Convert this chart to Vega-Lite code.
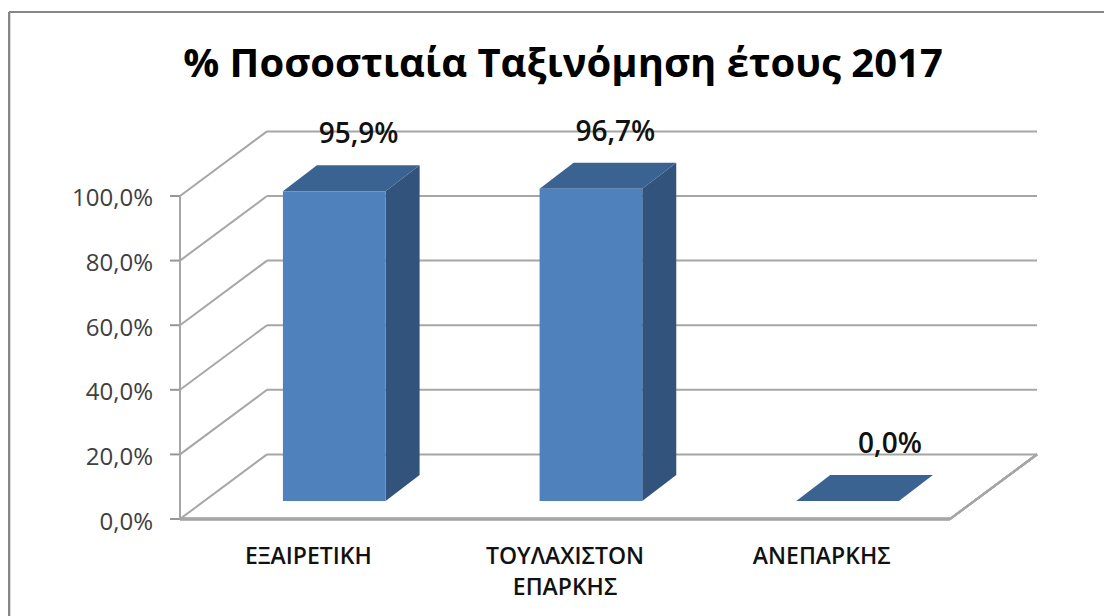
{"$schema":"https://vega.github.io/schema/vega-lite/v6.json","width":1104,"height":616,"autosize":{"type":"none"},"padding":0,"background":"white","config":{"view":{"stroke":null},"text":{"font":"Open Sans"},"title":{"font":"Open Sans"}},"title":{"text":"% Ποσοστιαία Ταξινόμηση έτους 2017","fontSize":40,"fontWeight":"bold","color":"#000000","anchor":"middle","baseline":"middle","offset":-63,"dx":11,"dy":42},"datasets":{"bars":[{"category":"ΕΞΑΙΡΕΤΙΚΗ","value":0.959},{"category":"ΤΟΥΛΑΧΙΣΤΟΝ ΕΠΑΡΚΗΣ","value":0.967},{"category":"ΑΝΕΠΑΡΚΗΣ","value":0}],"ticks":[{"v":0},{"v":0.2},{"v":0.4},{"v":0.6},{"v":0.8},{"v":1}]},"data":{"name":"bars"},"transform":[{"window":[{"op":"row_number","as":"i"}]},{"calculate":"datum.i-1+0.401","as":"c0"},{"calculate":"datum.c0+0.4","as":"c1"},{"calculate":"[0,1]","as":"t"},{"flatten":["t"]},{"calculate":"0.0557+datum.t*0.0805","as":"base"},{"calculate":"datum.base+datum.value","as":"tip"},{"calculate":"datum.c0+datum.t*0.1325","as":"xl"},{"calculate":"datum.c1+datum.t*0.1325","as":"xr"},{"calculate":"replace(format(datum.value,'.1%'),'.',',')","as":"label"},{"calculate":"(datum.c0+datum.c1)/2+0.095+(datum.value==0?0.07:0)","as":"lx"},{"calculate":"datum.i-0.5","as":"cx"}],"layer":[{"data":{"name":"ticks"},"transform":[{"calculate":"datum.v+0.2","as":"back"}],"mark":{"type":"rule","stroke":"#a6a6a6","strokeWidth":2},"encoding":{"x":{"datum":0.339,"type":"quantitative","scale":{"domain":[-0.7013,3.6],"nice":false,"zero":false},"axis":null},"x2":{"datum":3.339},"y":{"field":"back","type":"quantitative","scale":{"domain":[-0.3003,1.6068],"nice":false,"zero":false},"axis":null}}},{"data":{"name":"ticks"},"transform":[{"calculate":"datum.v+0.2","as":"back"}],"mark":{"type":"rule","stroke":"#a6a6a6","strokeWidth":2},"encoding":{"x":{"datum":0,"type":"quantitative","axis":null},"x2":{"datum":0.339},"y":{"field":"v","type":"quantitative","axis":null},"y2":{"field":"back"}}},{"data":{"name":"ticks"},"mark":{"type":"rule","stroke":"#969696","strokeWidth":2},"encoding":{"x":{"datum":-0.039,"type":"quantitative","axis":null},"x2":{"datum":0},"y":{"field":"v","type":"quantitative","axis":null}}},{"data":{"name":"ticks"},"transform":[{"calculate":"replace(format(datum.v,'.1%'),'.',',')","as":"tickLabel"}],"mark":{"type":"text","align":"right","baseline":"middle","dx":-27,"dy":3.5,"fontSize":24,"color":"#404040"},"encoding":{"x":{"datum":0,"type":"quantitative","axis":null},"y":{"field":"v","type":"quantitative","axis":null},"text":{"field":"tickLabel"}}},{"data":{"name":"ticks"},"transform":[{"aggregate":[{"op":"min","field":"v","as":"lo"},{"op":"max","field":"v","as":"hi"}]}],"mark":{"type":"rule","stroke":"#a6a6a6","strokeWidth":2},"encoding":{"x":{"datum":0,"type":"quantitative","axis":null},"y":{"field":"lo","type":"quantitative","axis":null},"y2":{"field":"hi"}}},{"mark":{"type":"rule","stroke":"#a6a6a6","strokeWidth":2.5},"encoding":{"x":{"datum":0,"type":"quantitative","axis":null},"x2":{"datum":3},"y":{"datum":0,"type":"quantitative","axis":null}}},{"mark":{"type":"rule","stroke":"#a6a6a6","strokeWidth":2},"encoding":{"x":{"datum":3,"type":"quantitative","axis":null},"x2":{"datum":3.339},"y":{"datum":0,"type":"quantitative","axis":null},"y2":{"datum":0.2}}},{"mark":{"type":"rule","stroke":"#868686","strokeWidth":2},"encoding":{"x":{"datum":-0.666,"type":"quantitative","axis":null},"y":{"datum":-0.3003,"type":"quantitative","axis":null},"y2":{"datum":1.5697}}},{"mark":{"type":"rule","stroke":"#868686","strokeWidth":2},"encoding":{"x":{"datum":-0.666,"type":"quantitative","axis":null},"x2":{"datum":3.6},"y":{"datum":1.5697,"type":"quantitative","axis":null}}},{"mark":{"type":"area","orient":"vertical","fill":"#31537c"},"encoding":{"x":{"field":"xr","type":"quantitative","axis":null},"y":{"field":"base","type":"quantitative","axis":null},"y2":{"field":"tip"},"detail":{"field":"category"}}},{"mark":{"type":"area","orient":"horizontal","fill":"#3b6391"},"encoding":{"y":{"field":"tip","type":"quantitative","axis":null},"x":{"field":"xl","type":"quantitative","axis":null},"x2":{"field":"xr"},"detail":{"field":"category"}}},{"transform":[{"filter":"datum.t==0"}],"mark":{"type":"rect","fill":"#4f81bd"},"encoding":{"x":{"field":"c0","type":"quantitative","axis":null},"x2":{"field":"c1"},"y":{"field":"base","type":"quantitative","axis":null},"y2":{"field":"tip"}}},{"transform":[{"filter":"datum.t==1"}],"mark":{"type":"text","fontSize":28,"fontWeight":600,"color":"#111111","baseline":"middle","dy":-30},"encoding":{"x":{"field":"lx","type":"quantitative","axis":null},"y":{"field":"tip","type":"quantitative","axis":null},"text":{"field":"label"}}},{"transform":[{"filter":"datum.t==0"}],"mark":{"type":"text","fontSize":23,"fontWeight":600,"color":"#111111","baseline":"top","dy":27,"lineBreak":" ","lineHeight":31},"encoding":{"x":{"field":"cx","type":"quantitative","axis":null},"y":{"datum":0,"type":"quantitative","axis":null},"text":{"field":"category"}}}]}
